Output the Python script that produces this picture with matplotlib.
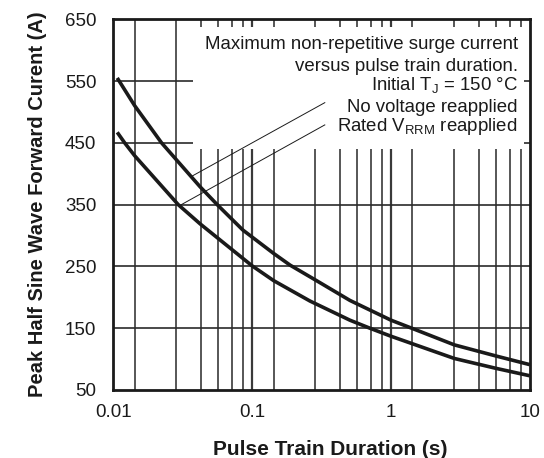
import numpy as np
import matplotlib
matplotlib.use("Agg")
import matplotlib.pyplot as plt
from matplotlib.patches import Rectangle

plt.rcParams['font.family'] = ['Liberation Sans', 'DejaVu Sans']
plt.rcParams['mathtext.fontset'] = 'custom'
plt.rcParams['mathtext.rm'] = 'Liberation Sans'
plt.rcParams['mathtext.it'] = 'Liberation Sans'

# No voltage reapplied (upper curve)
t_nov = [0.0107, 0.0143, 0.0223, 0.0422, 0.0561, 0.0857, 0.143, 0.188,
         0.286, 0.506, 1.0, 1.41, 2.86, 5.71, 10.0]
i_nov = [555, 510, 450, 379, 350, 309, 271, 252, 228, 195, 163, 150, 123, 105, 91]

# Rated VRRM reapplied (lower curve)
t_rated = [0.0107, 0.0121, 0.0143, 0.0294, 0.0422, 0.1, 0.143, 0.261, 0.506,
           0.705, 1.0, 2.86, 5.71, 10.0]
i_rated = [467, 450, 429, 350, 319, 251, 227, 194, 163, 150, 137, 101, 85, 73]

y_ticks = [50, 150, 250, 350, 450, 550, 650]
x_ticks = [0.01, 0.1, 1, 10]
x_labels = ['0.01', '0.1', '1', '10']

notes = ['Maximum non-repetitive surge current',
         'versus pulse train duration.',
         'Initial T$_\\mathrm{J}$ = 150 °C',
         'No voltage reapplied',
         'Rated V$_\\mathrm{RRM}$ reapplied']

fig = plt.figure(figsize=(5.44, 4.58), dpi=100)
ax = fig.add_axes([0.208, 0.1485, 0.766, 0.8095])
ax.set_xscale('log')
ax.set_xlim(0.01, 10)
ax.set_ylim(50, 650)

# odd datasheet grid: seven evenly spaced lines per decade
for d in [0.01, 0.1, 1]:
    for k in range(1, 8):
        x = d * 10 * k / 7
        if x >= 10:
            continue
        lw = 1.6 if k == 7 else 1.2
        ax.axvline(x, color='#3a3a3a', lw=lw, zorder=1)
for y in y_ticks[1:-1]:
    ax.axhline(y, color='#2a2a2a', lw=1.2, zorder=1)

# white box behind the notes
ax.add_patch(Rectangle((0.0375, 440), 9.06 - 0.0375, 637 - 440,
                       facecolor='white', edgecolor='none', zorder=2))

ax.plot(t_nov, i_nov, color='#1a1a1a', lw=2.6, zorder=4,
        solid_capstyle='butt', solid_joinstyle='round')
ax.plot(t_rated, i_rated, color='#1a1a1a', lw=2.6, zorder=4,
        solid_capstyle='butt', solid_joinstyle='round')

# leader lines
ax.plot([0.334, 0.0369], [515, 396], color='#1a1a1a', lw=0.7, zorder=3)
ax.plot([0.334, 0.031], [479, 350], color='#1a1a1a', lw=0.7, zorder=3)

ys = [0.931, 0.872, 0.823, 0.763, 0.710]
for s, yy in zip(notes, ys):
    ax.text(0.971, yy, s, transform=ax.transAxes, ha='right', va='center',
            fontsize=13.4, color='#1a1a1a', zorder=5)

ax.set_xticks(x_ticks)
ax.set_xticklabels(x_labels)
ax.set_yticks(y_ticks)
ax.xaxis.set_minor_locator(matplotlib.ticker.NullLocator())
ax.tick_params(length=0, labelsize=13.5, colors='#1a1a1a')
ax.tick_params(axis='x', pad=10)
ax.tick_params(axis='y', pad=12)

for sp in ax.spines.values():
    sp.set_linewidth(2)
    sp.set_color('#1a1a1a')
    sp.set_zorder(6)

ax.set_xlabel('Pulse Train Duration (s)', fontsize=15, fontweight='bold',
              color='#1a1a1a', labelpad=9)
ax.xaxis.set_label_coords(0.52, -0.135)
ax.set_ylabel('Peak Half Sine Wave Forward Curent (A)', fontsize=14.5,
              fontweight='bold', color='#1a1a1a', labelpad=13)

fig.savefig('out.png', dpi=100)
